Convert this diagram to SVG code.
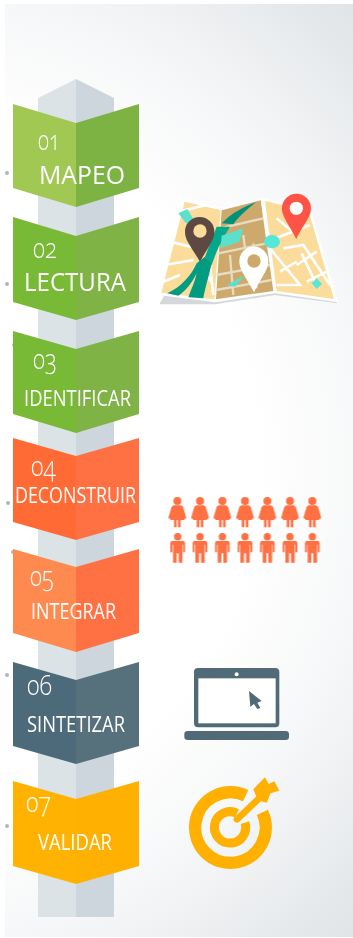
<svg xmlns="http://www.w3.org/2000/svg" xmlns:xlink="http://www.w3.org/1999/xlink" width="353" height="938" viewBox="0 0 353 938">
<style>
.t{font-family:"Open Sans","Noto Sans","Liberation Sans",sans-serif;fill:#fff}
.n{font-size:28px;font-weight:300;font-variant-numeric:oldstyle-nums}
.l{font-weight:400}
.dot{fill:#aab8c4}
.road{fill:none;stroke:#fff;stroke-width:8}
.road2{fill:none;stroke:#e6dcc4;stroke-width:7}
.p{fill:#ff7043}
.soft{filter:url(#soft)}
</style>
<defs>
<filter id="soft" x="-25%" y="-25%" width="150%" height="150%"><feGaussianBlur stdDeviation="0.45"/></filter>
<radialGradient id="bg" gradientUnits="userSpaceOnUse" cx="-100" cy="470" r="650">
<stop offset="0" stop-color="#fff"/><stop offset=".55" stop-color="#fff"/><stop offset=".735" stop-color="#f6f7f8"/><stop offset=".83" stop-color="#eef0f2"/><stop offset="1" stop-color="#e0e4e7"/>
</radialGradient>
<g id="woman"><circle cx="0" cy="11" r="12"/><path d="M-11,24H11L17,28 27,62 20,66 14,48 21,68H10V90H2V68H-2V90H-10V68H-21L-14,48-20,66-27,62-17,28Z"/></g>
<g id="man"><circle cx="0" cy="10" r="11"/><path d="M-17,23H17Q22,23 22,29V57H16V34H14V88H3V60H-3V88H-14V34H-16V57H-22V29Q-22,23-17,23Z"/></g>
</defs>
<rect x="5" y="4" width="348" height="933" fill="url(#bg)"/>
<g id="column">
<polygon points="38,98 76,79 76,917 38,917" fill="#dce3e7"/>
<polygon points="114,98 76,79 76,917 114,917" fill="#cdd6dc"/>
</g>
<g id="connectors"></g>
<g id="dots" class="soft">
<circle class="dot" cx="7" cy="173" r="2"/><circle class="dot" cx="7" cy="284" r="2"/><circle class="dot" cx="14" cy="345" r="2"/><circle class="dot" cx="8" cy="503" r="2"/><circle class="dot" cx="13" cy="552" r="2"/><circle class="dot" cx="7" cy="675" r="2"/><circle class="dot" cx="7" cy="826" r="2"/>
</g>
<g id="step1" class="soft">
<polygon points="13,104 76,123 76,207 13,188" fill="#a0c853"/><polygon points="139,104 76,123 76,207 139,188" fill="#7cb342"/>
<text class="t n" x="38" y="150" textLength="22" lengthAdjust="spacingAndGlyphs">01</text><text class="t l" x="39" y="184" font-size="26" textLength="86" lengthAdjust="spacingAndGlyphs">MAPEO</text>
</g>
<g id="step2" class="soft">
<polygon points="13,217 76,236 76,320 13,302" fill="#78b935"/><polygon points="139,217 76,236 76,320 139,302" fill="#7fb344"/>
<text class="t n" x="33" y="258" textLength="24" lengthAdjust="spacingAndGlyphs">02</text><text class="t l" x="24" y="291" font-size="25" textLength="102" lengthAdjust="spacingAndGlyphs">LECTURA</text>
</g>
<g id="step3" class="soft">
<polygon points="13,331 76,349 76,433 13,414" fill="#78b935"/><polygon points="139,331 76,349 76,433 139,414" fill="#7fb344"/>
<text class="t n" x="33" y="369" textLength="24" lengthAdjust="spacingAndGlyphs">03</text><text class="t l" x="24" y="406" font-size="21" textLength="107" lengthAdjust="spacingAndGlyphs">IDENTIFICAR</text>
</g>
<g id="step4" class="soft">
<polygon points="13,438 76,456 76,540 13,522" fill="#ff6b35"/><polygon points="139,438 76,456 76,540 139,522" fill="#ff7043"/>
<text class="t n" x="31" y="476" textLength="25" lengthAdjust="spacingAndGlyphs">04</text><text class="t l" x="15" y="503" font-size="22" textLength="121" lengthAdjust="spacingAndGlyphs">DECONSTRUIR</text>
</g>
<g id="step5" class="soft">
<polygon points="13,549 76,567 76,652 13,633" fill="#ff8a50"/><polygon points="139,549 76,567 76,652 139,633" fill="#ff7043"/>
<text class="t n" x="30" y="586" textLength="24" lengthAdjust="spacingAndGlyphs">05</text><text class="t l" x="31" y="619" font-size="21" textLength="85" lengthAdjust="spacingAndGlyphs">INTEGRAR</text>
</g>
<g id="step6" class="soft">
<polygon points="13,662 76,680 76,764 13,746" fill="#4d6b7a"/><polygon points="139,662 76,680 76,764 139,746" fill="#566f7b"/>
<text class="t n" x="27" y="695" textLength="25" lengthAdjust="spacingAndGlyphs">06</text><text class="t l" x="27" y="732" font-size="21" textLength="98" lengthAdjust="spacingAndGlyphs">SINTETIZAR</text>
</g>
<g id="step7" class="soft">
<polygon points="13,781 76,799 76,884 13,866" fill="#ffb300"/><polygon points="139,781 76,799 76,884 139,866" fill="#ffb000"/>
<text class="t n" x="26" y="812" textLength="25" lengthAdjust="spacingAndGlyphs">07</text><text class="t l" x="38" y="850" font-size="21" textLength="74" lengthAdjust="spacingAndGlyphs">VALIDAR</text>
</g>
<g id="map" class="soft" transform="translate(150,185) scale(.3333)">
<polygon points="28,358 60,300 530,300 562,355 375,330 195,358" fill="#d5d8da"/>
<polygon points="98,40 215,68 338,38 482,72 565,352 375,325 195,352 25,330" fill="#fff"/>
<polygon points="104,50 212,76 193,343 34,323" fill="#fbdc9a"/>
<polygon points="215,76 332,46 370,318 198,343" fill="#cdaa6c"/>
<polygon points="345,48 476,78 552,342 380,318" fill="#fbdc9a"/>
<path class="road" d="M85,80 170,60M60,170 140,190M45,240 130,225M40,290 90,270M120,110 190,130M175,200 190,330M150,240 190,300"/>
<path class="road2" d="M210,130 340,100M205,205 350,175M200,270 360,240M198,315 365,285M280,150 285,190M240,210 250,330M310,175 320,310"/>
<path class="road" d="M350,170 480,120M360,190 450,300 380,300M400,190 460,180 540,300M440,240 500,200M390,260 440,230M470,290 530,260M380,100 440,150M455,205 500,300"/>
<path d="M52,325 C95,305 125,270 140,235 L165,215 185,235 C175,280 165,310 160,340 L115,337 C125,310 135,290 140,265 C125,295 105,320 85,332Z" fill="#009b80"/>
<path d="M165,215 L200,125 240,125 C225,150 205,180 185,240Z" fill="#00a98d"/>
<path d="M215,115 C245,85 280,65 318,52 C290,75 265,95 250,118Z" fill="#00917a"/>
<polygon points="215,152 280,130 268,170 212,190" fill="#5ce0cc"/>
<polygon points="85,85 112,72 135,110 108,115" fill="#5ce0cc"/>
<ellipse cx="366" cy="170" rx="24" ry="20" fill="#55e8d8"/>
<polygon points="485,295 500,280 516,297 500,312" fill="#55e8d8"/>
<polygon points="230,300 285,270 255,305" fill="#5ce0cc"/>
<path d="M150,230 C120,180 105,165 105,140 A44,44 0 0 1 193,140 C193,165 178,180 150,230Z" fill="#5d4842"/>
<circle cx="150" cy="138" r="20" fill="#fbdc9a"/>
<path d="M312,322 C285,270 268,255 268,228 A43,43 0 0 1 355,228 C355,255 338,270 312,322Z" fill="#fff"/>
<circle cx="312" cy="228" r="20" fill="#cdaa6c"/>
<path d="M439,162 C412,110 396,95 396,70 A43,43 0 0 1 483,70 C483,95 466,110 439,162Z" fill="#ff5345"/>
<circle cx="439" cy="70" r="20" fill="#fff"/>
</g>
<g id="people" class="p soft" transform="translate(160,490) scale(.3333)">
<use xlink:href="#woman" href="#woman" x="52" y="22"/><use xlink:href="#woman" href="#woman" x="120" y="22"/><use xlink:href="#woman" href="#woman" x="187" y="22"/><use xlink:href="#woman" href="#woman" x="255" y="22"/><use xlink:href="#woman" href="#woman" x="322" y="22"/><use xlink:href="#woman" href="#woman" x="390" y="22"/><use xlink:href="#woman" href="#woman" x="457" y="22"/>
<use xlink:href="#man" href="#man" x="53" y="130"/><use xlink:href="#man" href="#man" x="120" y="130"/><use xlink:href="#man" href="#man" x="187" y="130"/><use xlink:href="#man" href="#man" x="255" y="130"/><use xlink:href="#man" href="#man" x="322" y="130"/><use xlink:href="#man" href="#man" x="390" y="130"/><use xlink:href="#man" href="#man" x="457" y="130"/>
</g>
<g id="laptop" class="soft" transform="translate(170,660) scale(.3333)">
<rect x="72" y="24" width="256" height="178" rx="12" fill="#516b78"/>
<rect x="85" y="55" width="232" height="135" fill="#fff"/>
<circle cx="200" cy="43" r="6" fill="#fff"/>
<rect x="43" y="213" width="314" height="27" rx="10" fill="#516b78"/>
<polygon points="237,93 275,123 262,128 271,144 262,147 252,132 241,140" fill="#516b78"/>
</g>
<g id="target" class="soft" transform="translate(175,770) scale(.3333)">
<path d="M262,127 A106,106 0 1 1 212,77" fill="none" stroke="#ffb000" stroke-width="37"/>
<path d="M210,158 A47,47 0 1 1 186,130" fill="none" stroke="#ffb000" stroke-width="27"/>
<path d="M186,148 262,76" fill="none" stroke="#ffb000" stroke-width="20" stroke-linecap="round"/>
<polygon points="235,58 270,22 281,42 298,34 313,62 286,70 276,98 258,94 244,80" fill="#ffb000"/>
</g>
</svg>
